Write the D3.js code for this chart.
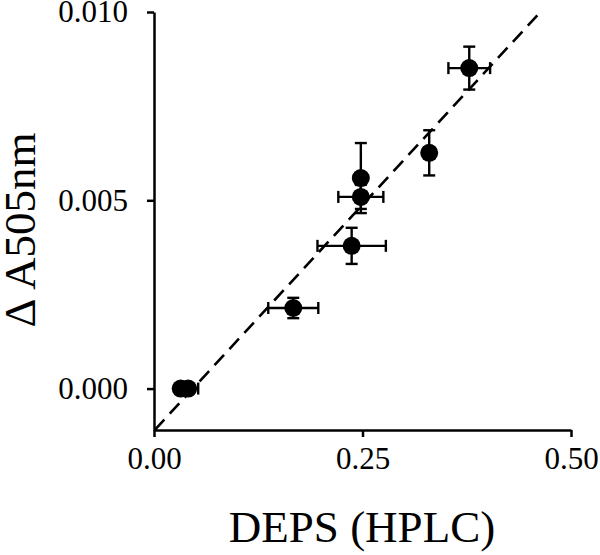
<!DOCTYPE html>
<html>
<head>
<meta charset="utf-8">
<style>
    body { margin: 0; background: #fff; }
    text { font-family: "Liberation Serif", "Times New Roman", serif; fill: #000; }
</style>
</head>
<body>
    <svg id="container" width="600" height="555"></svg>
<script src="https://cdn.jsdelivr.net/npm/d3@7/dist/d3.min.js"></script>
<script>
    // values
    let deps = [0.032, 0.041, 0.167, 0.237, 0.248, 0.248, 0.330, 0.378]
    let dA505 = [0.0000, 0.0000, 0.00214, 0.00379, 0.00509, 0.00559, 0.00626, 0.00851]
    let depsErr = [0.004, 0.012, 0.030, 0.041, 0.027, 0, 0.004, 0.025]
    let dA505Err = [0, 0, 0.00027, 0.00048, 0.00032, 0.00093, 0.0006, 0.00057]
    let xTicks = [0, 0.25, 0.5]
    let yTicks = [0, 0.005, 0.010]
    let fitSlope = 0.024
    let fitIntercept = -0.00112
    let fitRange = [0.001, 0.4633]

    let points = deps.map((d, i) => ({ x: d, y: dA505[i], ex: depsErr[i], ey: dA505Err[i] }))

    let svg = d3.select("#container")

    let x = d3.scaleLinear().domain([0, 0.5]).range([154, 571])
    let y = d3.scaleLinear().domain([-0.0011, 0.010]).range([430, 12])

    // axes
    svg.append("g")
        .attr("transform", "translate(0,430)")
        .call(d3.axisBottom(x).tickValues(xTicks).tickFormat(d3.format(".2f")).tickSize(7).tickSizeOuter(0).tickPadding(10))
    svg.append("g")
        .attr("transform", "translate(154,0)")
        .call(d3.axisLeft(y).tickValues(yTicks).tickFormat(d3.format(".3f")).tickSize(7).tickSizeOuter(0).tickPadding(19))

    svg.selectAll(".domain, .tick line").attr("stroke", "#000").attr("stroke-width", 2.5)
    svg.selectAll(".tick text")
        .style("font-family", "'Liberation Serif', serif")
        .style("font-size", "31px")
        .attr("fill", "#000")

    // regression line
    svg.append("line")
        .attr("x1", x(fitRange[0]))
        .attr("y1", y(fitSlope * fitRange[0] + fitIntercept))
        .attr("x2", x(fitRange[1]))
        .attr("y2", y(fitSlope * fitRange[1] + fitIntercept))
        .attr("stroke", "#000")
        .attr("stroke-width", 2.6)
        .attr("stroke-dasharray", "14,8")

    // error bars
    let cap = 6
    let bars = svg.append("g").attr("stroke", "#000").attr("stroke-width", 2.4)
    points.filter(d => d.ex > 0).forEach(d => {
        bars.append("line").attr("x1", x(d.x - d.ex)).attr("x2", x(d.x + d.ex)).attr("y1", y(d.y)).attr("y2", y(d.y))
        bars.append("line").attr("x1", x(d.x - d.ex)).attr("x2", x(d.x - d.ex)).attr("y1", y(d.y) - cap).attr("y2", y(d.y) + cap)
        bars.append("line").attr("x1", x(d.x + d.ex)).attr("x2", x(d.x + d.ex)).attr("y1", y(d.y) - cap).attr("y2", y(d.y) + cap)
    })
    points.filter(d => d.ey > 0).forEach(d => {
        bars.append("line").attr("x1", x(d.x)).attr("x2", x(d.x)).attr("y1", y(d.y - d.ey)).attr("y2", y(d.y + d.ey))
        bars.append("line").attr("x1", x(d.x) - cap).attr("x2", x(d.x) + cap).attr("y1", y(d.y - d.ey)).attr("y2", y(d.y - d.ey))
        bars.append("line").attr("x1", x(d.x) - cap).attr("x2", x(d.x) + cap).attr("y1", y(d.y + d.ey)).attr("y2", y(d.y + d.ey))
    })

    svg.selectAll("circle.pt")
        .data(points)
        .enter()
        .append("circle")
        .attr("class", "pt")
        .attr("cx", d => x(d.x))
        .attr("cy", d => y(d.y))
        .attr("r", 9)
        .attr("fill", "#000")

    // axis titles
    svg.append("text")
        .attr("x", 362)
        .attr("y", 542)
        .attr("text-anchor", "middle")
        .style("font-size", "45px")
        .text("DEPS (HPLC)")

    svg.append("text")
        .attr("transform", "translate(35,230) rotate(-90)")
        .attr("text-anchor", "middle")
        .style("font-size", "45px")
        .text("Δ A505nm")
</script>
</body>
</html>
